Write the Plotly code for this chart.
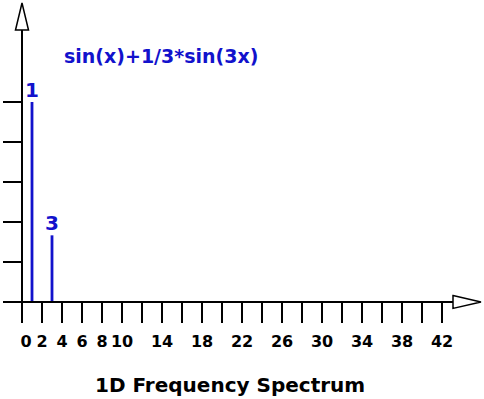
import plotly.graph_objects as go

# ---- data ----
frequencies = [1, 3]
amplitudes = [1.0, 1 / 3]
bar_labels = ["1", "3"]
x_tick_values = list(range(0, 43, 2))
x_tick_labels = ["\u20020", "2", "4", "6", "8", "10", "", "14", "", "18", "", "22", "",
                 "26", "", "30", "", "34", "", "38", "", "42"]
y_tick_values = [0, 0.2, 0.4, 0.6, 0.8, 1.0]
title_text = "sin(x)+1/3*sin(3x)"
xlabel_text = "1D Frequency Spectrum"

W, H = 484, 399
BLUE = "#1212cc"
FONT = "DejaVu Sans"

# axis ranges (pixel mapping: px = 22 + 10*x, py = 302 - 200*y)
x_range = [-2.2, 46.2]
y_range = [-0.485, 1.51]

fig = go.Figure()
fig.add_trace(go.Bar(
    x=frequencies, y=amplitudes, width=0.28,
    marker=dict(color=BLUE, line=dict(width=0)),
    text=bar_labels, textposition="outside", constraintext="none",
    textfont=dict(family=FONT, size=20, color=BLUE, weight="bold"),
    cliponaxis=False, hoverinfo="skip",
))

x_end = 43.1    # arrow base on x axis
x_tip = 45.9
y_end = 1.36    # arrow base on y axis
y_tip = 1.495
shapes = [
    dict(type="line", xref="x", yref="y", x0=0, x1=x_end, y0=0, y1=0,
         line=dict(color="black", width=2), layer="above"),
    dict(type="line", xref="x", yref="y", x0=0, x1=0, y0=0, y1=y_end,
         line=dict(color="black", width=2), layer="above"),
    dict(type="path", xref="x", yref="y",
         path=f"M {x_end},0.032 L {x_tip},0 L {x_end},-0.032 Z",
         line=dict(color="black", width=1.5), fillcolor="white", layer="above"),
    dict(type="path", xref="x", yref="y",
         path=f"M -0.65,{y_end} L 0,{y_tip} L 0.65,{y_end} Z",
         line=dict(color="black", width=1.5), fillcolor="white", layer="above"),
]

fig.update_layout(
    width=W, height=H,
    margin=dict(l=0, r=0, t=0, b=0),
    paper_bgcolor="white", plot_bgcolor="white",
    showlegend=False,
    shapes=shapes,
    xaxis=dict(range=x_range, domain=[0, 1], anchor="free",
               position=(H - 302) / H,
               showgrid=False, zeroline=False, showline=False,
               ticks="outside", ticklen=20, tickwidth=2, tickcolor="black",
               tickmode="array", tickvals=x_tick_values, ticktext=x_tick_labels,
               tickfont=dict(family=FONT, size=16, color="black", weight="bold"),
               ticklabelstandoff=5, fixedrange=True),
    yaxis=dict(range=y_range, domain=[0, 1], anchor="free",
               position=22 / W,
               showgrid=False, zeroline=False, showline=False,
               ticks="outside", ticklen=19, tickwidth=2, tickcolor="black",
               tickmode="array", tickvals=y_tick_values,
               showticklabels=False, fixedrange=True),
    annotations=[
        dict(text=title_text, xref="paper", yref="paper",
             x=62 / W, y=(H - 56) / H, xanchor="left", yanchor="middle",
             showarrow=False,
             font=dict(family=FONT, size=19, color=BLUE, weight="bold")),
        dict(text=xlabel_text, xref="paper", yref="paper",
             x=230 / W, y=(H - 385) / H, xanchor="center", yanchor="middle",
             showarrow=False,
             font=dict(family=FONT, size=20, color="black", weight="bold")),
    ],
)

fig.write_html("out.html", config={"displayModeBar": False},
               post_script="document.body.style.margin='0px';"
                           "document.body.style.overflow='hidden';")
